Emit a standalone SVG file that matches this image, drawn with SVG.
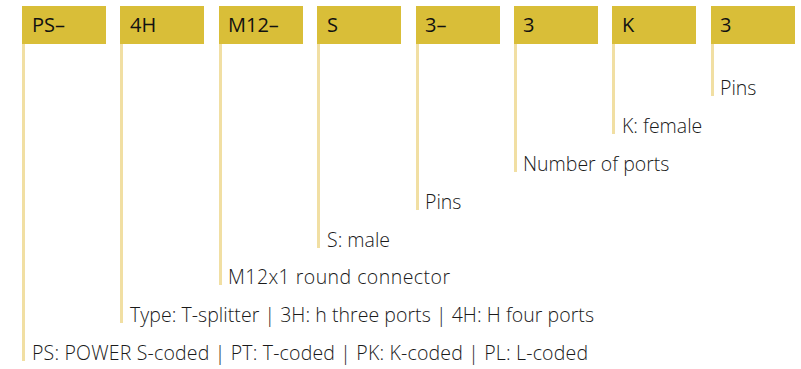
<svg xmlns="http://www.w3.org/2000/svg" width="801" height="369" viewBox="0 0 801 369">
<style>
.box{fill:#d9be38}
.bt{font-family:"Open Sans","Noto Sans",sans-serif;font-size:20px;fill:#111}
.ln{stroke:#f1dfa3;stroke-width:3;fill:none}
.lt{font-family:"Open Sans","Noto Sans",sans-serif;font-size:19.5px;font-weight:300;fill:#1a1a1a}
</style>
<rect width="801" height="369" fill="#fff"/>
<g id="connectors">
<line class="ln" x1="23.5" y1="44" x2="23.5" y2="361"/>
<line class="ln" x1="121.5" y1="44" x2="121.5" y2="323"/>
<line class="ln" x1="220.5" y1="44" x2="220.5" y2="285"/>
<line class="ln" x1="318.5" y1="44" x2="318.5" y2="248"/>
<line class="ln" x1="417.5" y1="44" x2="417.5" y2="210"/>
<line class="ln" x1="515.5" y1="44" x2="515.5" y2="172"/>
<line class="ln" x1="613.5" y1="44" x2="613.5" y2="134"/>
<line class="ln" x1="712.5" y1="44" x2="712.5" y2="96"/>
</g>
<g id="n1"><rect class="box" x="22" y="6" width="84" height="38"/><text class="bt" x="32" y="32">PS–</text><text class="lt" x="32" y="360" textLength="556" lengthAdjust="spacing">PS: POWER S-coded | PT: T-coded | PK: K-coded | PL: L-coded</text></g>
<g id="n2"><rect class="box" x="120" y="6" width="84" height="38"/><text class="bt" x="130" y="32">4H</text><text class="lt" x="130" y="322" textLength="464" lengthAdjust="spacing">Type: T-splitter | 3H: h three ports | 4H: H four ports</text></g>
<g id="n3"><rect class="box" x="219" y="6" width="84" height="38"/><text class="bt" x="228" y="32">M12–</text><text class="lt" x="228" y="284" textLength="222" lengthAdjust="spacing">M12x1 round connector</text></g>
<g id="n4"><rect class="box" x="317" y="6" width="84" height="38"/><text class="bt" x="327" y="32">S</text><text class="lt" x="327" y="247">S: male</text></g>
<g id="n5"><rect class="box" x="416" y="6" width="84" height="38"/><text class="bt" x="425" y="32">3–</text><text class="lt" x="425" y="209">Pins</text></g>
<g id="n6"><rect class="box" x="514" y="6" width="84" height="38"/><text class="bt" x="523" y="32">3</text><text class="lt" x="523" y="171">Number of ports</text></g>
<g id="n7"><rect class="box" x="612" y="6" width="84" height="38"/><text class="bt" x="622" y="32">K</text><text class="lt" x="622" y="133">K: female</text></g>
<g id="n8"><rect class="box" x="711" y="6" width="84" height="38"/><text class="bt" x="720" y="32">3</text><text class="lt" x="720" y="95">Pins</text></g>
</svg>
